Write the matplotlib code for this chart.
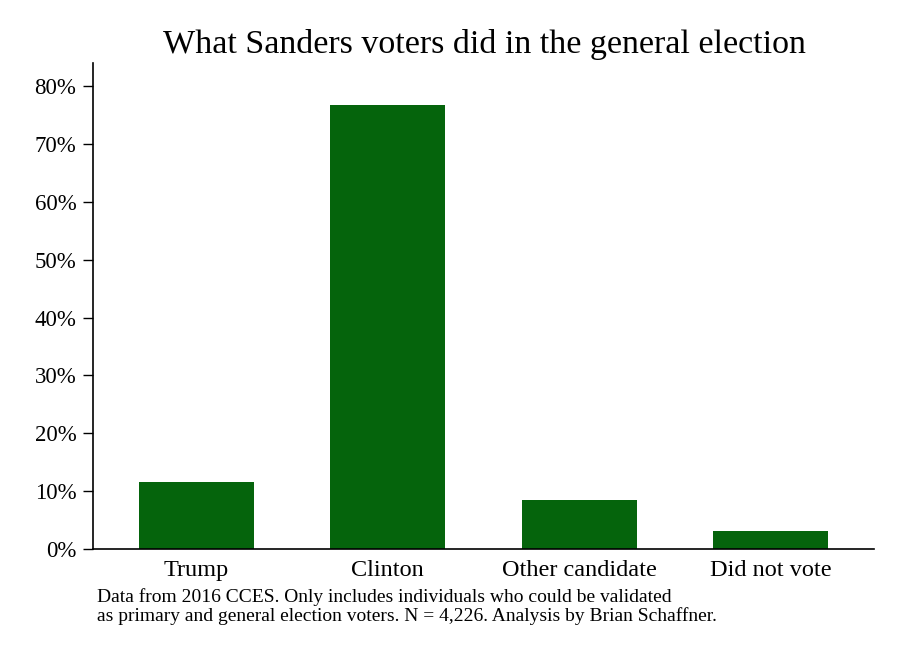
import matplotlib
matplotlib.use('Agg')
import matplotlib.pyplot as plt

plt.rcParams['font.family'] = ['Liberation Serif', 'DejaVu Serif']

# 数据
categories = ['Trump', 'Clinton', 'Other candidate', 'Did not vote']
shares = [11.6, 76.7, 8.5, 3.1]
yticks = [0, 10, 20, 30, 40, 50, 60, 70, 80]
ytick_labels = [f'{v}%' for v in yticks]

fig = plt.figure(figsize=(8.98, 6.53), dpi=100)
ax = fig.add_axes([0.1036, 0.1593, 0.8697, 0.7442])

ax.bar(range(len(categories)), shares, width=0.6, color='#05640c')

ax.set_xlim(-0.54, 3.54)
ax.set_ylim(0, 84)
ax.set_xticks(range(len(categories)))
ax.set_xticklabels(categories, fontsize=17.5)
ax.set_yticks(yticks)
ax.set_yticklabels(ytick_labels, fontsize=16.5)
ax.tick_params(axis='x', length=0, pad=8)
ax.tick_params(axis='y', length=7, width=1, direction='out', pad=5)

for side in ['top', 'right']:
    ax.spines[side].set_visible(False)
for side in ['left', 'bottom']:
    ax.spines[side].set_linewidth(1.2)

fig.text(0.539, 0.932, 'What Sanders voters did in the general election',
         ha='center', va='center', fontsize=24.5)

fig.text(0.108, 0.043,
         'Data from 2016 CCES. Only includes individuals who could be validated\n'
         'as primary and general election voters. N = 4,226. Analysis by Brian Schaffner.',
         ha='left', va='bottom', fontsize=14, linespacing=1.05)

fig.savefig('out.png', dpi=100)
